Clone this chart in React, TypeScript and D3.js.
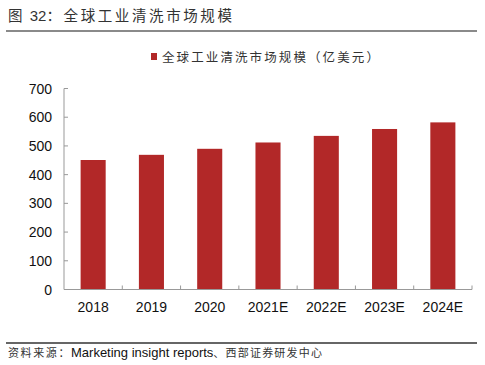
import React from "react";
import * as d3 from "d3";

const categories = ["2018", "2019", "2020", "2021E", "2022E", "2023E", "2024E"];
const values = [451, 469, 490, 512, 535, 559, 582];
const yTicks = [0, 100, 200, 300, 400, 500, 600, 700];
const titlePrefix = "图 ";
const titleNum = "32";
const titleText = "：全球工业清洗市场规模";
const legendLabel = "全球工业清洗市场规模（亿美元）";
const sourceA = "资料来源：";
const sourceB = "Marketing insight reports";
const sourceC = "、西部证券研发中心";

const W = 485, H = 365;
const left = 64, right = 472, top = 88.5, bottom = 289.5;
const barColor = "#B22828";
const cjk = "'Noto Sans CJK SC', sans-serif";
const latin = "'Liberation Sans', Arial, sans-serif";

export default function App() {
  const x = d3.scaleBand<string>().domain(categories).range([left, right]).paddingInner(0.57).paddingOuter(0.285);
  const y = d3.scaleLinear().domain([0, 700]).range([bottom, top]);
  const step = (right - left) / categories.length;
  return (
    <svg width={W} height={H} style={{ position: "absolute", left: 0, top: 0, background: "#fff" }}>
      <text x={8} y={21} fontFamily={cjk} fontSize={14.5} fill="#333">
        <tspan letterSpacing={2}>{titlePrefix}</tspan>
        <tspan fontFamily={latin} fontSize={15}>{titleNum}</tspan>
        <tspan letterSpacing={2.6}>{titleText}</tspan>
      </text>
      <line x1={6} x2={477} y1={31} y2={31} stroke="#8a8a8a" strokeWidth={2} />
      <rect x={151} y={53} width={6} height={7} fill={barColor} />
      <text x={162} y={61.5} fontFamily={cjk} fontSize={12.5} letterSpacing={2.1} fill="#333">{legendLabel}</text>
      {values.map((v, i) => (
        <rect key={i} x={x(categories[i])} y={y(v)} width={x.bandwidth()} height={bottom - y(v)} fill={barColor} />
      ))}
      <line x1={left} x2={left} y1={top} y2={bottom} stroke="#999" />
      <line x1={left} x2={right} y1={bottom} y2={bottom} stroke="#999" />
      {yTicks.map((t) => (
        <g key={t}>
          <line x1={left} x2={left + 4} y1={y(t)} y2={y(t)} stroke="#999" />
          <text x={52} y={y(t) + 5} textAnchor="end" fontFamily={latin} fontSize={14} fill="#111">{t}</text>
        </g>
      ))}
      {categories.map((c, i) => (
        <g key={c}>
          <line x1={left + step * (i + 1)} x2={left + step * (i + 1)} y1={bottom} y2={bottom - 4} stroke="#999" />
          <text x={x(c)! + x.bandwidth() / 2} y={312} textAnchor="middle" fontFamily={latin} fontSize={14} fill="#111">{c}</text>
        </g>
      ))}
      <line x1={6} x2={477} y1={343} y2={343} stroke="#333" strokeWidth={1.5} />
      <text x={8} y={357} fontFamily={cjk} fontSize={11} fill="#333">
        <tspan letterSpacing={1.6}>{sourceA}</tspan>
        <tspan fontFamily={latin} fontSize={13} fill="#111">{sourceB}</tspan>
        <tspan letterSpacing={1.2}>{sourceC}</tspan>
      </text>
    </svg>
  );
}
